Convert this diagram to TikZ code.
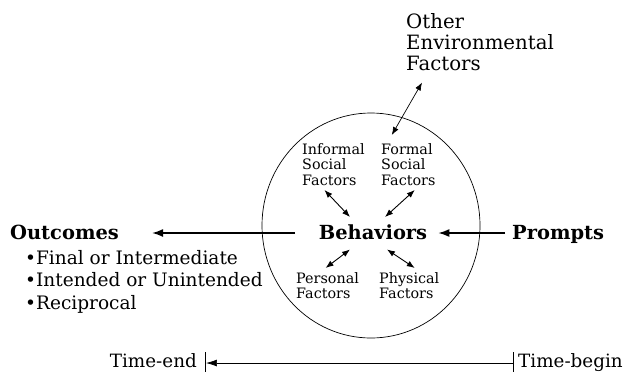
\documentclass[tikz,border=0pt]{standalone}
\usepackage{fontspec}
\setmainfont{DejaVu Serif}
\usetikzlibrary{arrows.meta,shapes.geometric}

\tikzset{
  big/.style={font=\fontsize{19.5}{22}\selectfont\bfseries, inner sep=0pt},
  small/.style={font=\fontsize{14.4}{15.8}\selectfont, align=left, inner sep=0pt},
  mid/.style={font=\fontsize{19.8}{21}\selectfont, align=left, inner sep=0pt},
  arr/.style={-{Latex[length=11pt,width=8pt]}, line width=1.6pt},
  dbl/.style={{Latex[length=8pt,width=6pt]}-{Latex[length=8pt,width=6pt]}, line width=0.9pt},
}

\begin{document}
\begin{tikzpicture}[x=1bp,y=-1bp]
  \useasboundingbox (0,0) rectangle (636,371);
  % the environment
  \node[ellipse, draw, line width=0.7pt, minimum width=218bp, minimum height=225bp] (env) at (371,225.5) {};
  \node[big, anchor=base] (beh) at (373,239) {Behaviors};
  \node[big, anchor=base west] (prm) at (512,239) {Prompts};
  \node[big, anchor=base west] (out) at (10,239) {Outcomes};
  \node[small, font=\fontsize{18.6}{22.5}\selectfont, anchor=north west] (lst) at (25,250)
    {\textbullet Final or Intermediate\\\textbullet Intended or Unintended\\\textbullet Reciprocal};
  % factors round the behaviors
  \node[small, anchor=north west] (inf) at (302,143) {Informal\\Social\\Factors};
  \node[small, anchor=north west] (frm) at (381,143) {Formal\\Social\\Factors};
  \node[small, anchor=north west] (per) at (296,272) {Personal\\Factors};
  \node[small, anchor=north west] (phy) at (379,272) {Physical\\Factors};
  \node[mid, anchor=north west] (oth) at (406,13) {Other\\Environmental\\Factors};
  % arrows
  \coordinate (ostart) at (295,233);
  \draw[arr] (ostart) -- ([xshift=33bp]out.east |- ostart);
  \draw[arr, shorten <=7bp, shorten >=11bp] (prm.west |- ostart) -- (beh.east |- ostart);
  \draw[dbl] ([shift={(-9,4)}]inf.south) -- ([shift={(-23,-7)}]beh.north);
  \draw[dbl] ([shift={(6.5,4)}]frm.south) -- ([shift={(12,-7)}]beh.north);
  \draw[dbl] ([shift={(-2,-4)}]per.north) -- ([shift={(-23,10)}]beh.south);
  \draw[dbl] ([shift={(5.5,-4)}]phy.north) -- ([shift={(14,10)}]beh.south);
  \draw[dbl, line width=0.7pt] ([shift={(-58,12)}]oth.south) -- ([shift={(-16.5,-8)}]frm.north);
  % time line
  \node[mid, font=\fontsize{18.4}{21}\selectfont, anchor=base east] (tend) at (197,367) {Time-end};
  \node[mid, font=\fontsize{18.4}{21}\selectfont, anchor=base west] (tbeg) at (518,367) {Time-begin};
  \coordinate (te) at (206,363);
  \coordinate (tb) at (513,363);
  \draw[line width=0.7pt] (te) ++(-1,-11) -- ++(0,20);
  \draw[line width=0.7pt] (tb) ++(0,-11) -- ++(0,20);
  \draw[-{Latex[length=11pt,width=7pt]}, line width=0.7pt] (tb) -- (te);
\end{tikzpicture}
\end{document}
